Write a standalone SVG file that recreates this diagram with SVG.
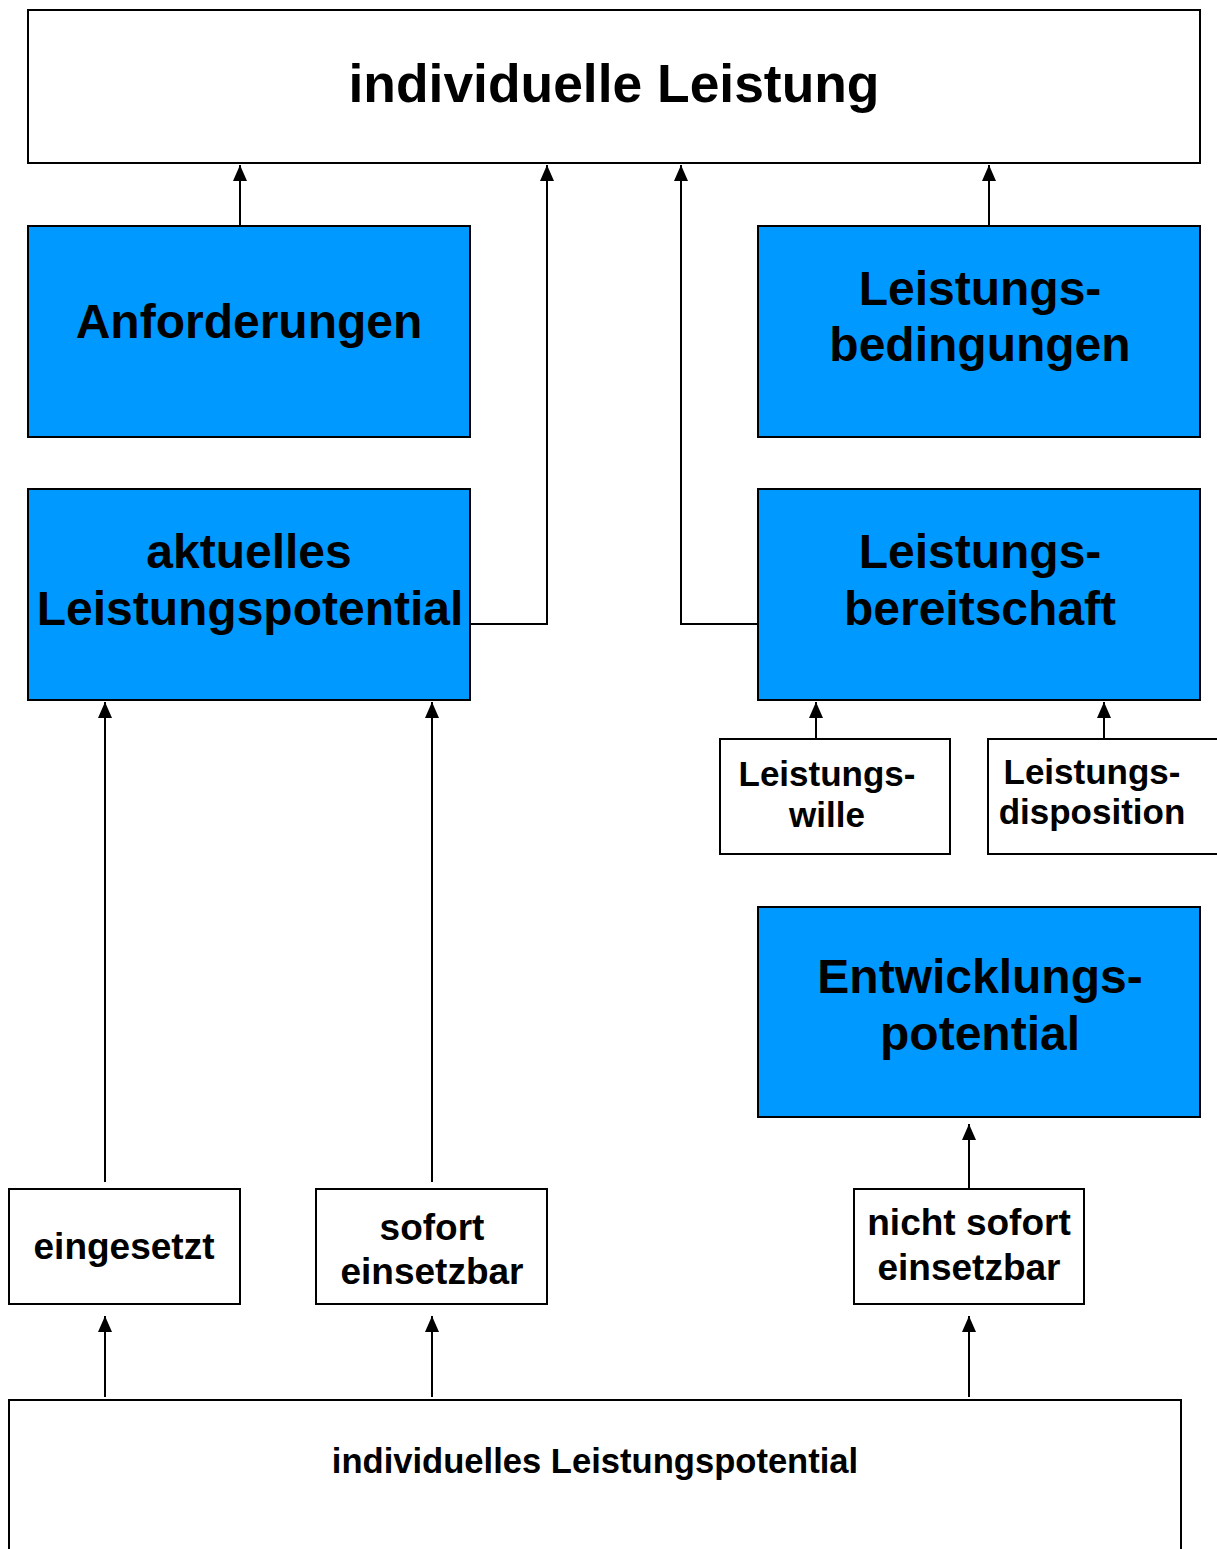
<svg xmlns="http://www.w3.org/2000/svg" width="1217" height="1549" viewBox="0 0 1217 1549">
  <defs>
    <marker id="arrow" viewBox="0 0 16 14" refX="16" refY="7" markerWidth="16" markerHeight="14" markerUnits="userSpaceOnUse" orient="auto">
      <path d="M0,0 L16,7 L0,14 Z" fill="#000"/>
    </marker>
    <style>
      .box { fill: #fff; stroke: #000; stroke-width: 2; }
      .blue { fill: #0099ff; stroke: #000; stroke-width: 2; }
      text { font-family: "Liberation Sans", Arial, sans-serif; font-weight: bold; fill: #000; text-anchor: middle; }
      .big { font-size: 48px; }
      .title { font-size: 53.4px; }
      .mid { font-size: 37px; }
      .sm { font-size: 35px; }
      .base { font-size: 34.6px; }
      .conn { fill: none; stroke: #000; stroke-width: 2; }
    </style>
  </defs>
  <rect width="1217" height="1549" fill="#fff"/>

  <g id="connectors">
    <path class="conn" d="M240,232 V165" marker-end="url(#arrow)"/>
    <path class="conn" d="M470,624 H547 V165" marker-end="url(#arrow)"/>
    <path class="conn" d="M758,624 H681 V165" marker-end="url(#arrow)"/>
    <path class="conn" d="M989,232 V165" marker-end="url(#arrow)"/>
    <path class="conn" d="M816,739 V702" marker-end="url(#arrow)"/>
    <path class="conn" d="M1104,739 V702" marker-end="url(#arrow)"/>
    <path class="conn" d="M105,1182 V702" marker-end="url(#arrow)"/>
    <path class="conn" d="M432,1182 V702" marker-end="url(#arrow)"/>
    <path class="conn" d="M969,1189 V1124" marker-end="url(#arrow)"/>
    <path class="conn" d="M105,1397 V1316" marker-end="url(#arrow)"/>
    <path class="conn" d="M432,1397 V1316" marker-end="url(#arrow)"/>
    <path class="conn" d="M969,1397 V1316" marker-end="url(#arrow)"/>
  </g>

  <g id="individuelle-leistung">
    <rect class="box" x="28" y="10" width="1172" height="153"/>
    <text class="title" x="614" y="102">individuelle Leistung</text>
  </g>

  <g id="anforderungen">
    <rect class="blue" x="28" y="226" width="442" height="211"/>
    <text class="big" x="249" y="338">Anforderungen</text>
  </g>

  <g id="leistungsbedingungen">
    <rect class="blue" x="758" y="226" width="442" height="211"/>
    <text class="big" x="980" y="305">Leistungs-</text>
    <text class="big" x="980" y="361">bedingungen</text>
  </g>

  <g id="aktuelles-leistungspotential">
    <rect class="blue" x="28" y="489" width="442" height="211"/>
    <text class="big" x="249" y="568">aktuelles</text>
    <text class="big" x="250" y="625">Leistungspotential</text>
  </g>

  <g id="leistungsbereitschaft">
    <rect class="blue" x="758" y="489" width="442" height="211"/>
    <text class="big" x="980" y="568">Leistungs-</text>
    <text class="big" x="980" y="625">bereitschaft</text>
  </g>

  <g id="leistungswille">
    <rect class="box" x="720" y="739" width="230" height="115"/>
    <text class="sm" x="827" y="786">Leistungs-</text>
    <text class="sm" x="827" y="827">wille</text>
  </g>

  <g id="leistungsdisposition">
    <rect class="box" x="988" y="739" width="235" height="115"/>
    <text class="sm" x="1092" y="784">Leistungs-</text>
    <text class="sm" x="1092" y="824">disposition</text>
  </g>

  <g id="entwicklungspotential">
    <rect class="blue" x="758" y="907" width="442" height="210"/>
    <text class="big" x="980" y="993">Entwicklungs-</text>
    <text class="big" x="980" y="1050">potential</text>
  </g>

  <g id="eingesetzt">
    <rect class="box" x="9" y="1189" width="231" height="115"/>
    <text class="mid" x="124" y="1259">eingesetzt</text>
  </g>

  <g id="sofort-einsetzbar">
    <rect class="box" x="316" y="1189" width="231" height="115"/>
    <text class="mid" x="432" y="1240">sofort</text>
    <text class="mid" x="432" y="1284">einsetzbar</text>
  </g>

  <g id="nicht-sofort-einsetzbar">
    <rect class="box" x="854" y="1189" width="230" height="115"/>
    <text class="mid" x="969" y="1235">nicht sofort</text>
    <text class="mid" x="969" y="1280">einsetzbar</text>
  </g>

  <g id="individuelles-leistungspotential">
    <rect class="box" x="9" y="1400" width="1172" height="160"/>
    <text class="base" x="595" y="1473">individuelles Leistungspotential</text>
  </g>
</svg>
